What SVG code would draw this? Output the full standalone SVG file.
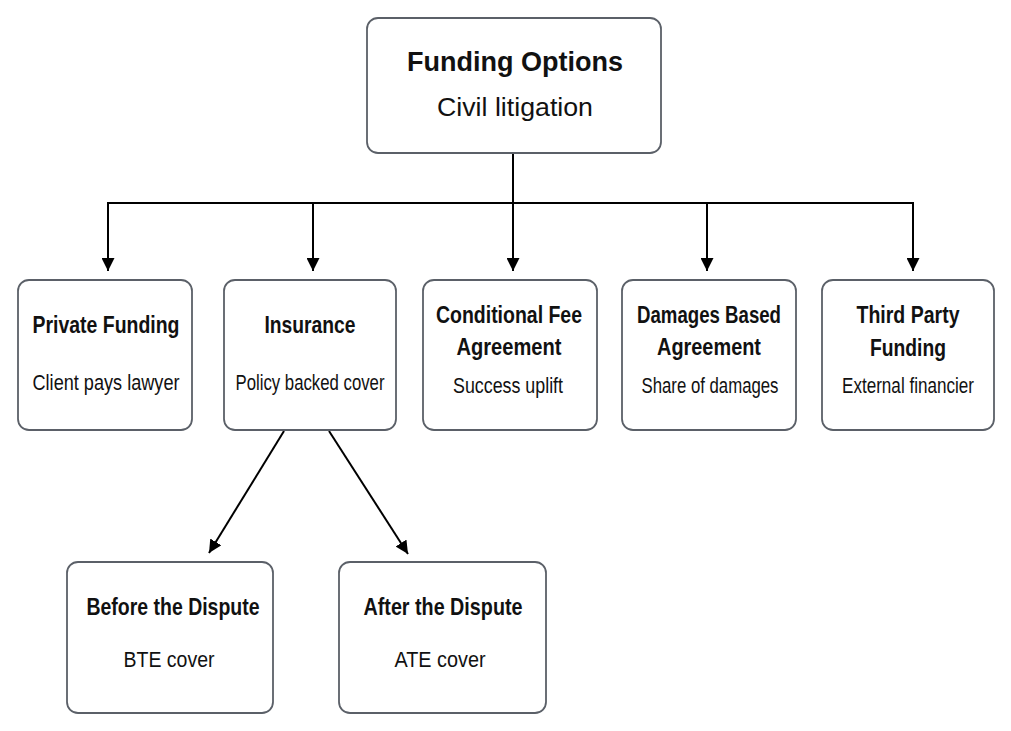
<svg xmlns="http://www.w3.org/2000/svg" width="1011" height="731" viewBox="0 0 1011 731">
  <defs>
    <marker id="arr" viewBox="0 0 13 13" refX="13" refY="6.5" markerWidth="13" markerHeight="13" markerUnits="userSpaceOnUse" orient="auto">
      <path d="M0,0 L13,6.5 L0,13 Z" fill="#000"/>
    </marker>
    <style>
      .box { fill: #fff; stroke: #5b6068; stroke-width: 1.8; }
      .title { font-family: "Liberation Sans", Arial, sans-serif; font-weight: bold; font-size: 27px; fill: #111; text-anchor: middle; }
      .titlesub { font-family: "Liberation Sans", Arial, sans-serif; font-size: 26px; fill: #111; text-anchor: middle; }
      .h { font-family: "Liberation Sans", Arial, sans-serif; font-weight: bold; font-size: 24px; fill: #111; text-anchor: middle; }
      .s { font-family: "Liberation Sans", Arial, sans-serif; font-size: 22px; fill: #111; text-anchor: middle; }
      .conn { fill: none; stroke: #000; stroke-width: 2; }
    </style>
  </defs>
  <rect width="1011" height="731" fill="#fff"/>

  <g id="connectors">
    <path class="conn" d="M513,153 V203"/>
    <path class="conn" d="M107,203 H914" stroke-width="2.4"/>
    <path class="conn" d="M108,203 V271" marker-end="url(#arr)"/>
    <path class="conn" d="M313,203 V271" marker-end="url(#arr)"/>
    <path class="conn" d="M513,203 V271" marker-end="url(#arr)"/>
    <path class="conn" d="M707,203 V271" marker-end="url(#arr)"/>
    <path class="conn" d="M913,203 V271" marker-end="url(#arr)"/>
    <path class="conn" d="M284,431 L209,553" marker-end="url(#arr)" stroke-width="1.6"/>
    <path class="conn" d="M329,431 L408,554" marker-end="url(#arr)" stroke-width="1.6"/>
  </g>

  <g id="funding-options">
    <rect class="box" x="367" y="18" width="294" height="135" rx="11"/>
    <text class="title" x="515" y="71" textLength="216" lengthAdjust="spacingAndGlyphs">Funding Options</text>
    <text class="titlesub" x="515" y="116" textLength="156" lengthAdjust="spacingAndGlyphs">Civil litigation</text>
  </g>

  <g id="private-funding">
    <rect class="box" x="18" y="280" width="174" height="150" rx="11"/>
    <text class="h" x="106" y="333" textLength="147" lengthAdjust="spacingAndGlyphs">Private Funding</text>
    <text class="s" x="106" y="390" textLength="147" lengthAdjust="spacingAndGlyphs">Client pays lawyer</text>
  </g>

  <g id="insurance">
    <rect class="box" x="224" y="280" width="172" height="150" rx="11"/>
    <text class="h" x="310" y="333" textLength="91" lengthAdjust="spacingAndGlyphs">Insurance</text>
    <text class="s" x="310" y="390" textLength="149" lengthAdjust="spacingAndGlyphs">Policy backed cover</text>
  </g>

  <g id="conditional-fee">
    <rect class="box" x="423" y="280" width="174" height="150" rx="11"/>
    <text class="h" x="509" y="323" textLength="146" lengthAdjust="spacingAndGlyphs">Conditional Fee</text>
    <text class="h" x="509" y="355" textLength="105" lengthAdjust="spacingAndGlyphs">Agreement</text>
    <text class="s" x="508" y="393" textLength="110" lengthAdjust="spacingAndGlyphs">Success uplift</text>
  </g>

  <g id="damages-based">
    <rect class="box" x="622" y="280" width="174" height="150" rx="11"/>
    <text class="h" x="709" y="323" textLength="144" lengthAdjust="spacingAndGlyphs">Damages Based</text>
    <text class="h" x="709" y="355" textLength="104" lengthAdjust="spacingAndGlyphs">Agreement</text>
    <text class="s" x="710" y="393" textLength="137" lengthAdjust="spacingAndGlyphs">Share of damages</text>
  </g>

  <g id="third-party">
    <rect class="box" x="822" y="280" width="172" height="150" rx="11"/>
    <text class="h" x="908" y="323" textLength="103" lengthAdjust="spacingAndGlyphs">Third Party</text>
    <text class="h" x="908" y="356" textLength="76" lengthAdjust="spacingAndGlyphs">Funding</text>
    <text class="s" x="908" y="393" textLength="132" lengthAdjust="spacingAndGlyphs">External financier</text>
  </g>

  <g id="before-dispute">
    <rect class="box" x="67" y="562" width="206" height="151" rx="11"/>
    <text class="h" x="173" y="615" textLength="173" lengthAdjust="spacingAndGlyphs">Before the Dispute</text>
    <text class="s" x="169" y="667" textLength="91" lengthAdjust="spacingAndGlyphs">BTE cover</text>
  </g>

  <g id="after-dispute">
    <rect class="box" x="339" y="562" width="207" height="151" rx="11"/>
    <text class="h" x="443" y="615" textLength="159" lengthAdjust="spacingAndGlyphs">After the Dispute</text>
    <text class="s" x="440" y="667" textLength="91" lengthAdjust="spacingAndGlyphs">ATE cover</text>
  </g>
</svg>
